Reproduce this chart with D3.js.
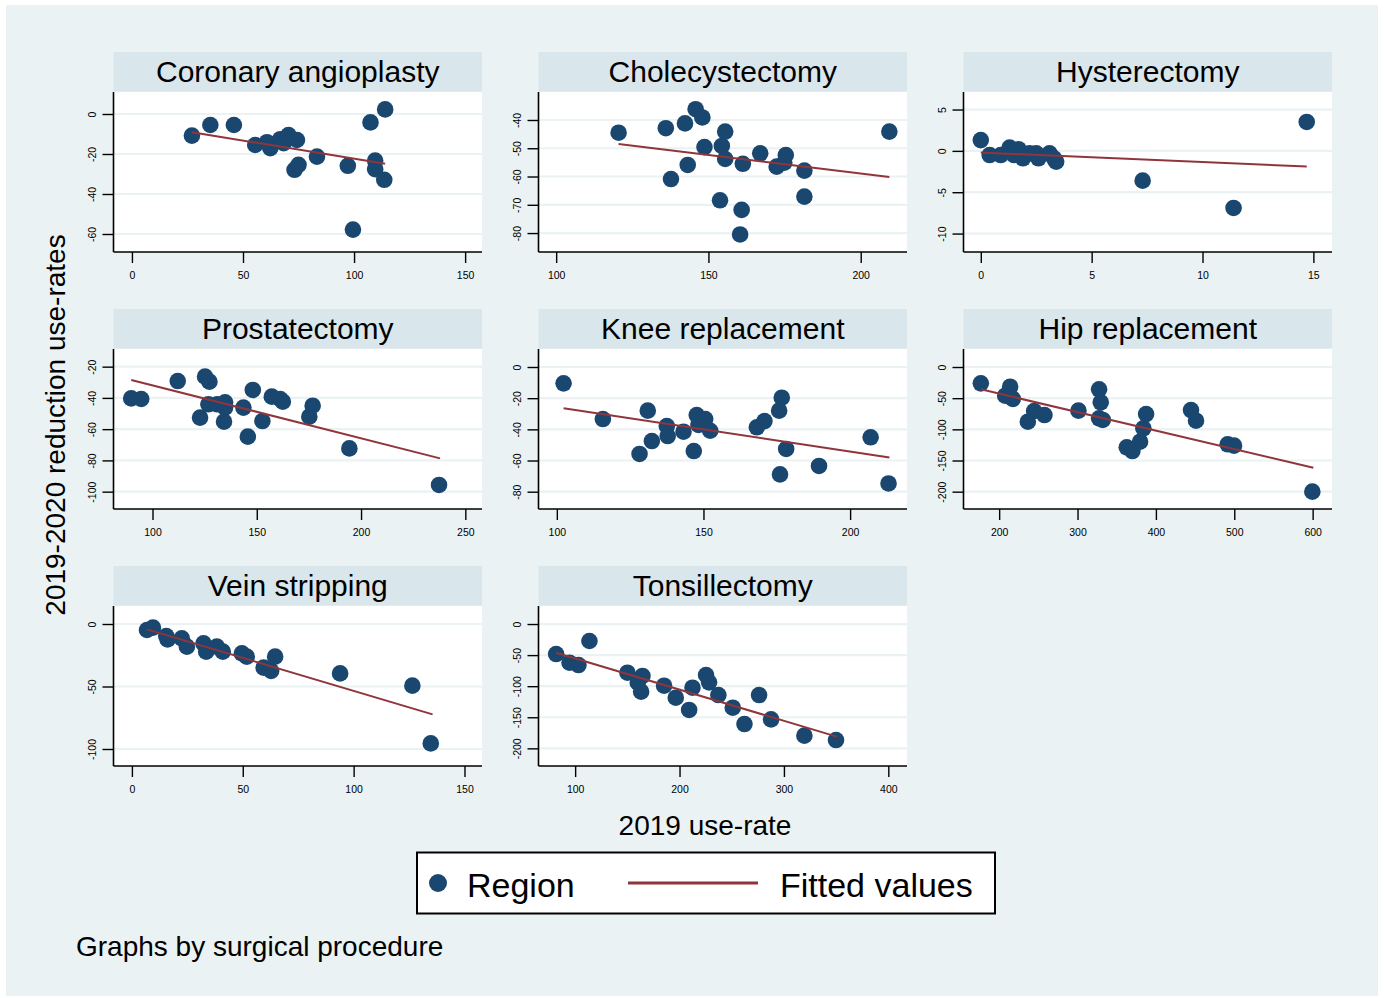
<!DOCTYPE html>
<html><head><meta charset="utf-8">
<script src="https://cdn.jsdelivr.net/npm/d3@7"></script>
<style>body{margin:0;background:#fff}svg{display:block;font-family:"Liberation Sans",Arial,sans-serif}</style>
</head><body><svg id="c" width="1384" height="998"></svg>
<script>
// ---- data ----
const titles = ["Coronary angioplasty","Cholecystectomy","Hysterectomy","Prostatectomy","Knee replacement","Hip replacement","Vein stripping","Tonsillectomy"];

const caX = [27,35.3,45.9,55.5,60.8,62.3,66.8,68.3,70.5,74.3,73.2,75,83.3,97.2,99.5,107.4,114,109.5,109.5,113.6];
const caY = [-10.8,-5.5,-5.5,-15.5,-14.1,-17.1,-12.6,-14.6,-10.5,-13,-27.9,-25.4,-21.3,-25.9,-57.8,-4.2,2.3,-23.3,-27.6,-32.9];
const chX = [120.5,136,142.3,145.8,148,137.7,143.2,148.7,154.4,155.5,155.5,153.8,161.3,160.9,160.4,167,172.4,175.4,174.9,181.5,181.5,209.4];
const chY = [-44.5,-42.9,-41.2,-36.2,-39.1,-60.9,-55.9,-49.6,-49.2,-44.1,-53.8,-68.4,-55.5,-71.8,-80.5,-51.8,-56.5,-52.4,-55.1,-57.9,-67.1,-44.1];
const hyX = [0,0.4,0.9,1.3,1.5,1.7,1.9,2.2,2.5,2.6,3.1,3.3,3.4,7.3,11.4,14.7];
const hyY = [1.3,-0.5,-0.5,0.4,-0.5,0.2,-0.9,-0.3,-0.3,-0.9,-0.3,-0.9,-1.3,-3.6,-6.9,3.5];
const prX = [89.8,94.6,112.1,125.2,127.3,126.8,122.8,131,134.8,134.8,134.3,143.6,145.7,148.1,152.7,157.2,161.2,162.5,175.2,176.8,194.4,237.4];
const prY = [-40.3,-40.7,-29.2,-26.4,-29.6,-44.1,-52.6,-44.1,-42.8,-46.2,-55.2,-46.2,-64.8,-34.9,-54.8,-39.2,-40.7,-42.4,-52,-45,-72.3,-95.7];
const knX = [102.3,115.7,131,128.2,132.4,137.5,137.8,143.2,146.7,147.7,148.3,150.6,152.3,168.2,170.8,175.8,176.7,178.2,176.1,189.4,207,213.1];
const knY = [-10.5,-33.4,-28,-55.8,-47.5,-37.9,-44.3,-41.5,-53.9,-30.8,-37.2,-33.4,-40.9,-38.7,-34.7,-28,-19.7,-52.6,-68.9,-63.5,-45.1,-74.7];
const hiX = [176.6,214,207.7,217.4,236.6,244.6,257.8,301.2,327.5,329.6,327.5,332.2,362.8,370,379.8,384,387.5,444.8,451.2,491.6,499.7,599.6];
const hiY = [-26.2,-31.6,-46,-51.3,-87.7,-70.6,-77,-70,-35.8,-56.7,-82.4,-85,-128.9,-134.8,-119.8,-98.4,-75.4,-69,-86.1,-124,-126.2,-200];
const veX = [6.8,9.5,15.5,16.1,22.5,24.8,32.3,33.5,38.3,41,49.6,51.8,59.4,62.8,64.6,93.9,126.5,134.8];
const veY = [-4.8,-2.9,-9.6,-12.3,-11.5,-18.1,-15.5,-22.1,-18.1,-22.1,-23.5,-26.1,-34.9,-37.6,-26.1,-39.5,-49.3,-95.5];
const toX = [81.8,94.6,103.2,113.7,150.1,160,164.5,163.2,185.2,196.4,209.2,212.4,225.4,228.3,237.2,251,262.2,276.2,287.7,319.6,349.9];
const toY = [-48.3,-62.2,-66,-27.3,-78.3,-94.4,-83.6,-108.8,-99.2,-118.5,-138.3,-102.4,-82,-93.8,-114.2,-134.6,-160.9,-114.2,-153.4,-179.6,-186.6];

// fitted-value line end points [x0, y0, x1, y1]
const fitCA = [27,-9.1,114,-24.9];
const fitCH = [120.5,-48.5,209.4,-60.2];
const fitHY = [0,-0.2,14.7,-1.9];
const fitPR = [89.8,-28.5,237.9,-78.7];
const fitKN = [102.3,-26.5,213.4,-58];
const fitHI = [176.6,-35.8,600.9,-161.5];
const fitVE = [6.8,-4.3,135.6,-72.3];
const fitTO = [81.8,-46.1,350.6,-181.2];

// tick labels
const xTicks = [[0,50,100,150],[100,150,200],[0,5,10,15],[100,150,200,250],[100,150,200],[200,300,400,500,600],[0,50,100,150],[100,200,300,400]];
const yTicks = [[0,-20,-40,-60],[-40,-50,-60,-70,-80],[5,0,-5,-10],[-20,-40,-60,-80,-100],[0,-20,-40,-60,-80],[0,-50,-100,-150,-200],[0,-50,-100],[0,-50,-100,-150,-200]];
// axis ranges
const xRanges = [[-8.3,157.6],[94.2,215.2],[-0.78,15.84],[81.3,258],[93.75,219.4],[154.5,624.7],[-8.3,157.9],[64.9,417.9]];
const yRanges = [[-69,11],[-86.7,-30.1],[-12.23,7.12],[-111.1,-8.7],[-91.1,11.55],[-227.8,28.9],[-113.6,14.4],[-228.4,29]];

const xsAll = [caX,chX,hyX,prX,knX,hiX,veX,toX];
const ysAll = [caY,chY,hyY,prY,knY,hiY,veY,toY];
const fits = [fitCA,fitCH,fitHY,fitPR,fitKN,fitHI,fitVE,fitTO];

// ---- drawing ----
const svg = d3.select("#c");
const BG = "#eaf2f3", STRIP = "#d9e6eb", NAVY = "#1a476f", MAROON = "#90353b";
svg.append("rect").attr("x",6).attr("y",5).attr("width",1372).attr("height",991).attr("fill",BG);

const colX = [113.5, 538.5, 963.5];
const rowY = [92, 349, 606];
const PW = 368.5, PH = 160;

titles.forEach((t,i)=>{
  const left = colX[i%3], top = rowY[Math.floor(i/3)];
  const g = svg.append("g").attr("transform",`translate(${left},${top})`);
  // strip
  g.append("rect").attr("x",0).attr("y",-40).attr("width",PW).attr("height",39.5).attr("fill",STRIP);
  g.append("text").attr("x",PW/2).attr("y",-21).attr("text-anchor","middle").attr("dominant-baseline","central")
    .attr("font-size",30).attr("fill","#000").text(t);
  // plot region
  g.append("rect").attr("x",0).attr("y",0).attr("width",PW).attr("height",PH).attr("fill","#fff");
  const x = d3.scaleLinear().domain(xRanges[i]).range([0,PW]);
  const y = d3.scaleLinear().domain(yRanges[i]).range([PH,0]);
  // grid
  g.append("g").selectAll("line").data(yTicks[i]).join("line")
    .attr("x1",0).attr("x2",PW).attr("y1",d=>y(d)).attr("y2",d=>y(d))
    .attr("stroke",BG).attr("stroke-width",2.2);
  // axes
  const ax = g.append("g").attr("transform",`translate(0,${PH})`)
    .call(d3.axisBottom(x).tickValues(xTicks[i]).tickSize(11).tickPadding(9).tickFormat(d=>String(d)));
  ax.select(".domain").attr("d",`M0,0H${PW}`).attr("stroke","#000").attr("stroke-width",1.6);
  ax.selectAll(".tick line").attr("stroke","#000").attr("stroke-width",1.4);
  ax.selectAll(".tick text").attr("font-size",10.5).attr("fill","#000").attr("font-family","Liberation Sans, Arial, sans-serif");
  const ay = g.append("g")
    .call(d3.axisLeft(y).tickValues(yTicks[i]).tickSize(11).tickFormat(d=>String(d)));
  ay.select(".domain").attr("d",`M0,0V${PH}`).attr("stroke","#000").attr("stroke-width",1.6);
  ay.selectAll(".tick line").attr("stroke","#000").attr("stroke-width",1.4);
  ay.selectAll(".tick text").attr("font-size",10.5).attr("fill","#000").attr("font-family","Liberation Sans, Arial, sans-serif")
    .attr("x",null).attr("dy",null).attr("text-anchor","middle").attr("dominant-baseline","central")
    .attr("transform","translate(-21.5,0) rotate(-90)");
  // points
  const pts = xsAll[i].map((v,k)=>[v, ysAll[i][k]]);
  g.append("g").selectAll("circle").data(pts).join("circle")
    .attr("cx",d=>x(d[0])).attr("cy",d=>y(d[1])).attr("r",8.3).attr("fill",NAVY);
  // fitted line
  const f = fits[i];
  g.append("line").attr("x1",x(f[0])).attr("y1",y(f[1])).attr("x2",x(f[2])).attr("y2",y(f[3]))
    .attr("stroke",MAROON).attr("stroke-width",2);
});

// axis titles
svg.append("text").attr("transform","translate(55,425) rotate(-90)").attr("text-anchor","middle")
  .attr("dominant-baseline","central").attr("font-size",28).attr("fill","#000").text("2019-2020 reduction use-rates");
svg.append("text").attr("x",705).attr("y",825).attr("text-anchor","middle").attr("dominant-baseline","central")
  .attr("font-size",28).attr("fill","#000").text("2019 use-rate");

// legend
const lg = svg.append("g");
lg.append("rect").attr("x",417).attr("y",852.5).attr("width",578).attr("height",61).attr("fill","#fff").attr("stroke","#000").attr("stroke-width",2);
lg.append("circle").attr("cx",438).attr("cy",883).attr("r",9).attr("fill",NAVY);
lg.append("text").attr("x",467).attr("y",885).attr("dominant-baseline","central").attr("font-size",34).attr("fill","#000").text("Region");
lg.append("line").attr("x1",628).attr("x2",758).attr("y1",883).attr("y2",883).attr("stroke",MAROON).attr("stroke-width",3);
lg.append("text").attr("x",780).attr("y",885).attr("dominant-baseline","central").attr("font-size",34).attr("fill","#000").text("Fitted values");

// note
svg.append("text").attr("x",76).attr("y",946).attr("dominant-baseline","central").attr("font-size",28).attr("fill","#000").text("Graphs by surgical procedure");
</script></body></html>
